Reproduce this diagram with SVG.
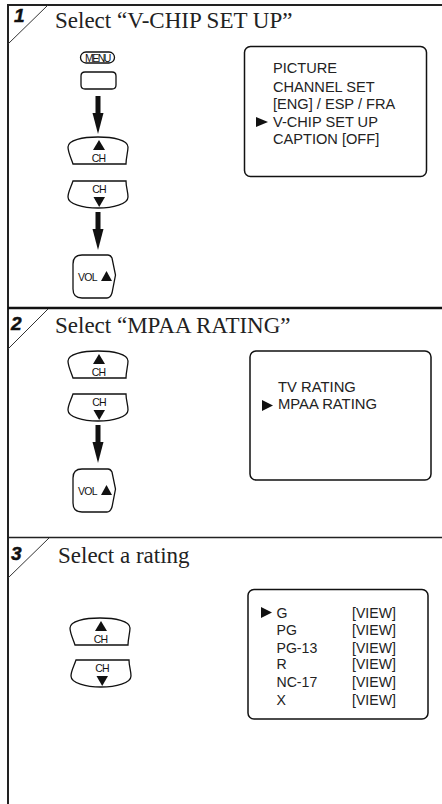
<svg xmlns="http://www.w3.org/2000/svg" width="442" height="804" viewBox="0 0 442 804">
<style>
.h{font-family:"Liberation Serif",serif;font-size:23px;fill:#222}
.m{font-family:"Liberation Sans",sans-serif;font-size:14.6px;fill:#222}
.m2{font-family:"Liberation Sans",sans-serif;font-size:14.8px;fill:#222}
.m3{font-family:"Liberation Sans",sans-serif;font-size:14.1px;fill:#222}
.c{font-family:"Liberation Sans",sans-serif;font-size:10.5px;fill:#111;text-anchor:middle;letter-spacing:-.7px}
.n{font-family:"Liberation Sans",sans-serif;font-size:19px;font-weight:bold;font-style:italic;fill:#111;stroke:#111;stroke-width:.5}
.b{fill:#fff;stroke:#111;stroke-width:1.3}
.s{fill:#fff;stroke:#111;stroke-width:1.5}
.f{fill:none;stroke:#333;stroke-width:1}
.t{fill:#111}
</style>
<defs>
<g id="up"><path class="b" d="M-25 14C-27 8 -30 2 -30 -3C-30 -10 -15 -13 0 -13C15 -13 30 -10 30 -3C30 2 28 8 28 14Z"/><path class="t" d="M1 -10L7 0H-5Z"/><text class="c" x="0.500" y="12">CH</text></g>
<g id="down"><path class="b" d="M-25 -14H28C28 -8 30 -3 30 2C30 9 15 13 0 13C-15 13 -30 9 -30 2C-30 -3 -27 -8 -25 -14Z"/><text class="c" x="1" y="-2">CH</text><path class="t" d="M-4.500 2H7L1.200 12Z"/></g>
<g id="vol"><path class="b" d="M-15 -21H11C13 -21 14 -20 15 -18L18.500 -1L15 17C14 20 13 22 10 22H-15C-21 22 -24 19 -24 13V-12C-24 -18 -21 -21 -15 -21Z"/><text class="c" x="-9.500" y="5">VOL</text><path class="t" d="M9.500 -5L15 5H4Z"/></g>
<g id="arr"><rect class="t" x="-2.500" y="0" width="5" height="19"/><path class="t" d="M-5.500 17H5.500L0 38Z"/></g>
</defs>
<g id="connectors">
<use href="#arr" x="98" y="96"/>
<use href="#arr" x="98" y="212"/>
<use href="#arr" x="98" y="425"/>
</g>
<g id="frame">
<path fill="none" stroke="#222" stroke-width="2" d="M8 804V5H442"/>
<path fill="none" stroke="#111" stroke-width="2.300" d="M8 308H442"/>
<path fill="none" stroke="#222" stroke-width="1.500" d="M8 537.500H442"/>
</g>
<g id="step1">
<path class="f" d="M8 44L48 5"/><text class="n" x="14" y="22">1</text>
<text class="h" x="55" y="28">Select “V-CHIP SET UP”</text>
</g>
<g id="menu">
<rect class="b" x="80.500" y="52" width="34" height="11" rx="5.500"/>
<text class="c" x="97.500" y="61.500" style="letter-spacing:-1.500px">MENU</text>
<path class="b" d="M85 72H112Q116 72 116 76V85Q116 89 112 89H85Q81 89 81 85V76Q81 72 85 72Z"/>
</g>
<g id="ch-up-1"><use href="#up" x="98" y="150"/></g>
<g id="ch-down-1"><use href="#down" x="98" y="195"/></g>
<g id="vol-1"><use href="#vol" x="97" y="276"/></g>
<g id="screen1">
<rect class="s" x="244.500" y="46.500" width="182" height="130" rx="6"/>
<text class="m" x="273" y="73">PICTURE</text>
<text class="m" x="273" y="92">CHANNEL SET</text>
<text class="m" x="273" y="109">[ENG] / ESP / FRA</text>
<text class="m" x="273" y="127">V-CHIP SET UP</text>
<text class="m" x="273" y="144">CAPTION [OFF]</text>
<path class="t" d="M256 117L268 122L256 127Z"/>
</g>
<g id="step2">
<path class="f" d="M8 349L48 309"/><text class="n" x="11" y="330">2</text>
<text class="h" x="55" y="333">Select “MPAA RATING”</text>
</g>
<g id="ch-up-2"><use href="#up" x="98" y="364"/></g>
<g id="ch-down-2"><use href="#down" x="98" y="408"/></g>
<g id="vol-2"><use href="#vol" x="97" y="490"/></g>
<g id="screen2">
<rect class="s" x="250" y="351" width="181" height="129" rx="6"/>
<text class="m2" x="278" y="392">TV RATING</text>
<text class="m2" x="278" y="409">MPAA RATING</text>
<path class="t" d="M262 400L273 405.500L262 411Z"/>
</g>
<g id="step3">
<path class="f" d="M8 578L49 538"/><text class="n" x="11" y="560">3</text>
<text class="h" x="58" y="563">Select a rating</text>
</g>
<g id="ch-up-3"><use href="#up" x="100" y="631"/></g>
<g id="ch-down-3"><use href="#down" x="101" y="674"/></g>
<g id="screen3">
<rect class="s" x="248" y="589.500" width="180" height="129.500" rx="6"/>
<path class="t" d="M261 607L272 612.500L261 618Z"/>
<text class="m3" x="276.500" y="618">G</text><text class="m3" x="352" y="618">[VIEW]</text>
<text class="m3" x="276.500" y="635">PG</text><text class="m3" x="352" y="635">[VIEW]</text>
<text class="m3" x="276.500" y="653">PG-13</text><text class="m3" x="352" y="653">[VIEW]</text>
<text class="m3" x="276.500" y="669">R</text><text class="m3" x="352" y="669">[VIEW]</text>
<text class="m3" x="276.500" y="687">NC-17</text><text class="m3" x="352" y="687">[VIEW]</text>
<text class="m3" x="276.500" y="705">X</text><text class="m3" x="352" y="705">[VIEW]</text>
</g>
</svg>
